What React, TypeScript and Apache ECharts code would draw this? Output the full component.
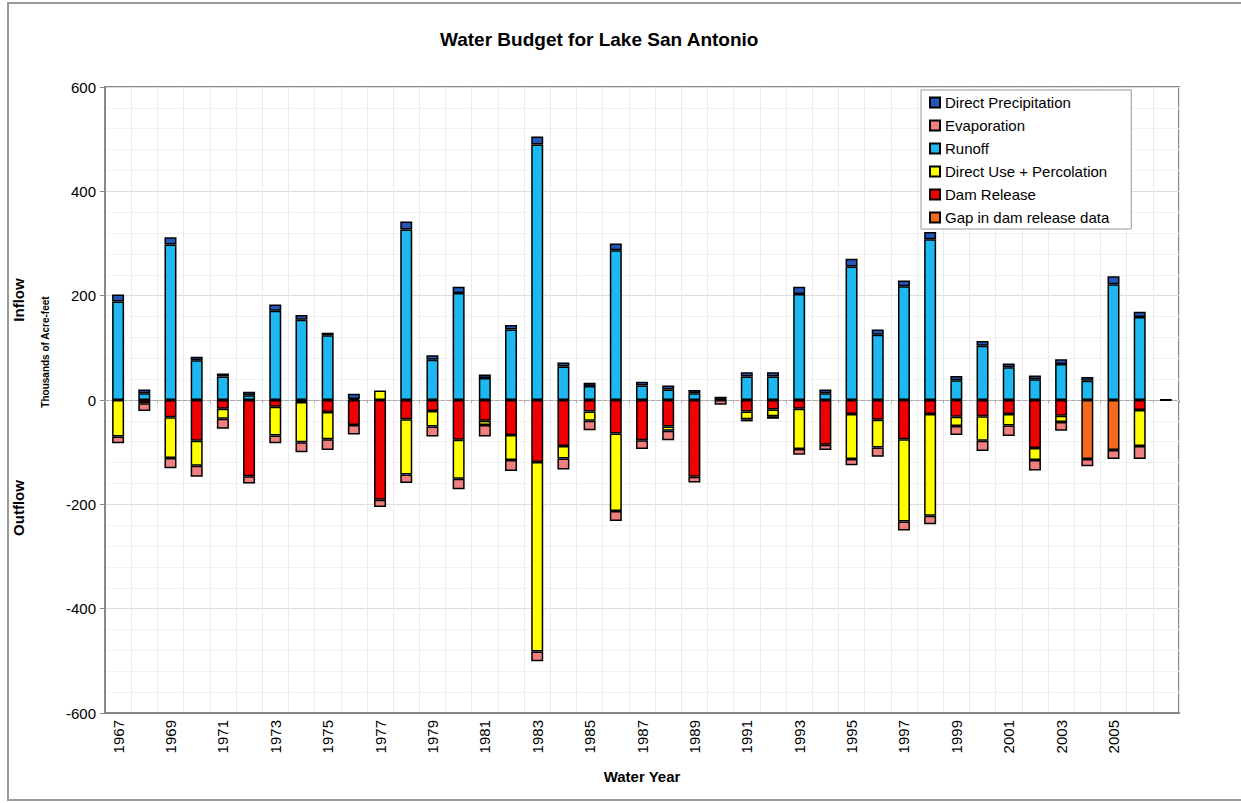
import React, { useEffect, useRef } from "react";
import * as echarts from "echarts";

const years = [
  "1967", "1968", "1969", "1970", "1971", "1972", "1973", "1974", "1975", "1976",
  "1977", "1978", "1979", "1980", "1981", "1982", "1983", "1984", "1985", "1986",
  "1987", "1988", "1989", "1990", "1991", "1992", "1993", "1994", "1995", "1996",
  "1997", "1998", "1999", "2000", "2001", "2002", "2003", "2004", "2005", "2006",
  "2007",
];

const runoff = [
  189, 13, 298, 76, 45, 9, 171, 154, 124, 2,
  0, 327, 77, 205, 42, 135, 490, 64, 27, 287,
  28, 20, 13, 0, 45, 45, 203, 13, 256, 125,
  218, 308, 38, 104, 63, 40, 69, 37, 222, 159,
  0,
];

const directPrecipitation = [
  13, 7, 14, 7, 6, 7, 12, 9, 5, 10,
  0, 15, 9, 12, 7, 9, 15, 8, 6, 13,
  7, 8, 6, 6, 8, 8, 14, 7, 15, 10,
  11, 14, 8, 9, 7, 7, 9, 7, 15, 10,
  1,
];

const damRelease = [
  0, -6, -33, -78, -17, -146, -13, -4, -23, -48,
  -191, -37, -21, -76, -40, -67, -119, -88, -22, -64,
  -77, -51, -147, 0, -22, -18, -17, -86, -27, -38,
  -75, -27, -32, -31, -27, -92, -30, 0, 0, -19,
  0,
];

const gapInDamRelease = [
  0, 0, 0, 0, 0, 0, 0, 0, 0, 0,
  0, 0, 0, 0, 0, 0, 0, 0, 0, 0,
  0, 0, 0, 0, 0, 0, 0, 0, 0, 0,
  0, 0, 0, 0, 0, 0, 0, -113, -96, 0,
  0,
];

const directUsePercolation = [
  -70, 0, -78, -48, -19, 0, -55, -77, -52, 0,
  18, -106, -30, -75, -8, -48, -363, -24, -18, -149,
  0, -8, 0, 0, -15, -13, -77, 0, -86, -53,
  -158, -195, -18, -47, -22, -23, -12, 0, 0, -69,
  0,
];

const evaporation = [
  -13, -15, -20, -21, -19, -14, -15, -19, -21, -18,
  -14, -16, -19, -20, -22, -21, -19, -21, -18, -19,
  -17, -18, -11, -9, -4, -5, -11, -10, -12, -18,
  -17, -16, -17, -20, -20, -20, -17, -14, -17, -25,
  -1,
];

const yTicks = { min: -600, max: 600, interval: 200 };

const FONT = "'Liberation Sans', Arial, sans-serif";

export default function App() {
  const ref = useRef<HTMLDivElement>(null);

  useEffect(() => {
    document.body.style.margin = "0";
    const chart = echarts.init(ref.current!, null, { renderer: "svg" });
    const toData = (arr: number[]) => arr.map((v) => (v === 0 ? "-" : v));
    const mkSeries = (name: string, data: number[], color: string) => ({
      name,
      type: "bar",
      stack: "budget",
      barWidth: 12,
      data: toData(data),
      itemStyle: { color, borderColor: "#000", borderWidth: 1.5 },
      emphasis: { disabled: true },
    });

    const option: any = {
      animation: false,
      backgroundColor: "#fff",
      textStyle: { fontFamily: FONT },
      title: {
        text: "Water Budget for Lake San Antonio",
        left: 435,
        top: 25,
        textStyle: { fontSize: 19, fontWeight: "bold", color: "#000", fontFamily: FONT },
      },
      legend: {
        orient: "vertical",
        left: 921,
        top: 90,
        selectedMode: false,
        icon: "rect",
        itemWidth: 10,
        itemHeight: 10,
        itemGap: 8,
        padding: [5, 22, 4, 8],
        backgroundColor: "#fff",
        borderColor: "#999",
        borderWidth: 1,
        textStyle: { fontSize: 15, lineHeight: 15, color: "#000", fontFamily: FONT },
        data: [
          "Direct Precipitation",
          "Evaporation",
          "Runoff",
          "Direct Use + Percolation",
          "Dam Release",
          "Gap in dam release data",
        ],
      },
      grid: {
        left: 105,
        right: 62,
        top: 87,
        bottom: 90,
        show: true,
        borderColor: "#888",
        borderWidth: 2,
        backgroundColor: "transparent",
      },
      xAxis: [
        {
          type: "category",
          data: years,
          position: "bottom",
          axisLine: { onZero: false, lineStyle: { color: "#888", width: 2 } },
          axisTick: { show: false },
          axisLabel: {
            rotate: 90,
            fontSize: 15,
            color: "#000",
            margin: 7,
            fontFamily: FONT,
            interval: (i: number) => i % 2 === 0 && i < years.length - 1,
          },
          splitLine: { show: true, interval: 0, lineStyle: { color: "#ebebeb", width: 1 } },
          name: "Water Year",
          nameLocation: "middle",
          nameGap: 56,
          nameTextStyle: { fontSize: 15, fontWeight: "bold", color: "#000", fontFamily: FONT },
        },
        {
          type: "category",
          data: years,
          position: "bottom",
          axisLine: { onZero: true, lineStyle: { color: "#aaa", width: 1, type: "dashed" } },
          axisTick: { show: true, length: 3, lineStyle: { color: "#aaa" } },
          axisLabel: { show: false },
          splitLine: { show: false },
        },
      ],
      yAxis: {
        type: "value",
        min: yTicks.min,
        max: yTicks.max,
        interval: yTicks.interval,
        axisLine: { show: true, lineStyle: { color: "#888", width: 2 } },
        axisTick: { show: true, inside: false, length: 5, lineStyle: { color: "#888" } },
        axisLabel: { fontSize: 15, color: "#000", margin: 9, fontFamily: FONT },
        splitLine: { show: true, lineStyle: { color: "#dcdcdc", width: 1 } },
        minorTick: { show: false, splitNumber: 5 },
        minorSplitLine: { show: true, lineStyle: { color: "#f3f3f3", width: 1 } },
      },
      graphic: [
        {
          type: "rect",
          shape: { x: 8, y: 3, width: 1240, height: 797 },
          style: { fill: "none", stroke: "#9a9a9a", lineWidth: 2 },
          silent: true,
        },
        {
          type: "text",
          x: 18,
          y: 300,
          rotation: Math.PI / 2,
          style: {
            text: "Inflow",
            fontSize: 15,
            fontWeight: "bold",
            fill: "#000",
            fontFamily: FONT,
            textAlign: "center",
            textVerticalAlign: "middle",
          },
        },
        {
          type: "text",
          x: 18,
          y: 508,
          rotation: Math.PI / 2,
          style: {
            text: "Outflow",
            fontSize: 15,
            fontWeight: "bold",
            fill: "#000",
            fontFamily: FONT,
            textAlign: "center",
            textVerticalAlign: "middle",
          },
        },
        {
          type: "text",
          x: 45,
          y: 352,
          rotation: Math.PI / 2,
          style: {
            text: "Thousands of Acre-feet",
            fontSize: 10,
            fontWeight: "bold",
            fill: "#000",
            fontFamily: FONT,
            textAlign: "center",
            textVerticalAlign: "middle",
          },
        },
      ],
      series: [
        mkSeries("Runoff", runoff, "#1EB8F0"),
        mkSeries("Direct Precipitation", directPrecipitation, "#2358B8"),
        mkSeries("Dam Release", damRelease, "#F00000"),
        mkSeries("Gap in dam release data", gapInDamRelease, "#F26A1B"),
        mkSeries("Direct Use + Percolation", directUsePercolation, "#FFFF00"),
        mkSeries("Evaporation", evaporation, "#F08080"),
      ],
    };

    chart.setOption(option);
    return () => chart.dispose();
  }, []);

  return <div ref={ref} style={{ width: 1241, height: 803 }} />;
}
